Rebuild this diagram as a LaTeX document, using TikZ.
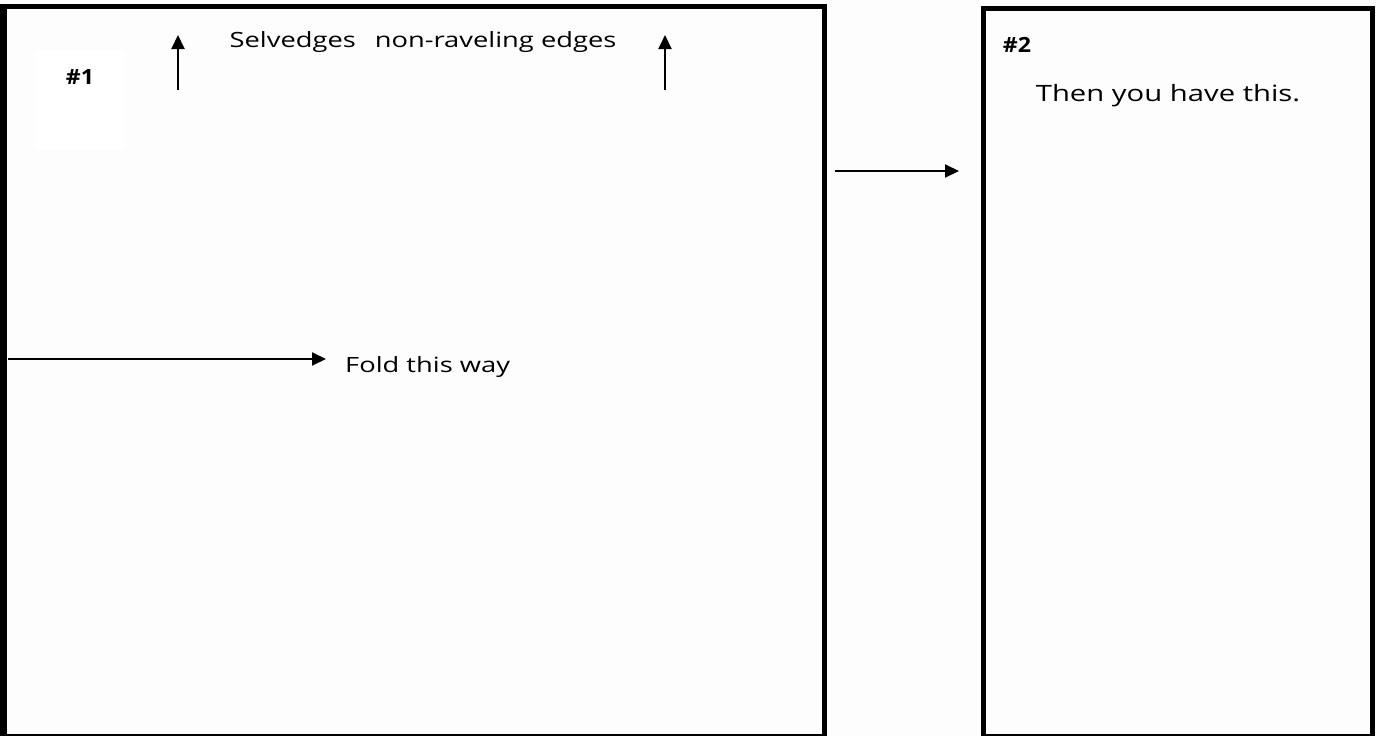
\documentclass[tikz,border=0pt]{standalone}
\usepackage{fontspec}
\setmainfont{Open Sans}
\newfontfamily\handfont[FakeStretch=1.3]{Open Sans}
\newfontfamily\numfont[FakeStretch=1.1]{Open Sans}
\usetikzlibrary{arrows.meta}
\begin{document}
\begin{tikzpicture}[x=1pt,y=-1pt,
  panel/.style={draw=black, line width=5pt, rectangle, inner sep=0pt, fill=none},
  lbl/.style={inner sep=0pt, font=\handfont\fontsize{21pt}{24pt}\selectfont},
  numlbl/.style={inner sep=0pt, font=\numfont\fontsize{21pt}{24pt}\selectfont\bfseries},
  arr/.style={line width=2pt, -{Triangle[length=14pt,width=13pt]}}]
\useasboundingbox (0,0) rectangle (1376,736);
\fill[black!0.8] (0,0) rectangle (1376,736);
\fill[white] (35,50) rectangle (125,150);
% panels
\node[panel, minimum width=820pt, minimum height=730pt] (p1) at (414,371) {};
\draw[line width=9pt] (p1.north west) -- (p1.south west);
\node[panel, minimum width=389.5pt, minimum height=728pt] (p2) at (1177.75,372) {};
% labels
\node[numlbl] (n1) at (80,77) {\#1};
\node[numlbl] (n2) at (1017,45) {\#2};
\node[lbl] (sel) at (423,42) {Selvedges\hspace{0.9em}non-raveling edges};
\node[lbl, font=\handfont\fontsize{22.5pt}{25pt}\selectfont] (then) at (1168,96) {Then you have this.};
\node[lbl, anchor=west] (fold) at (345,367) {Fold this way};
% arrows
\coordinate (a1s) at (178,90); \coordinate (a1e) at (178,35);
\coordinate (a2s) at (665,90); \coordinate (a2e) at (665,35);
\draw[arr] (a1s) -- (a1e);
\draw[arr] (a2s) -- (a2e);
\coordinate (fs) at (8,359); \coordinate (fe) at (326,359);
\draw[arr] (fs) -- (fe);
\coordinate (bs) at (835,171); \coordinate (be) at (959,171);
\draw[arr] (bs) -- (be);
\end{tikzpicture}
\end{document}
